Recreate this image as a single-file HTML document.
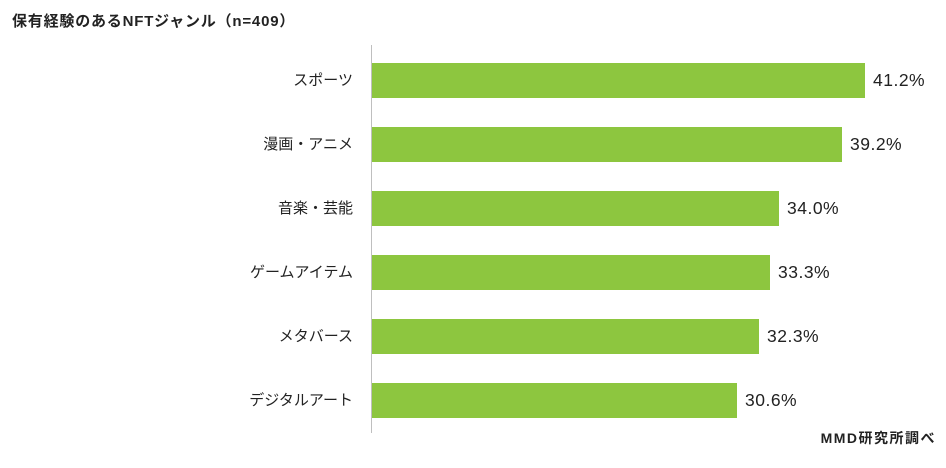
<!DOCTYPE html>
<html><head><meta charset="utf-8"><style>
body{margin:0;background:#fff;width:946px;height:468px;overflow:hidden;position:relative;font-family:"Liberation Sans","Noto Sans CJK JP",sans-serif;color:#222}
.t{position:absolute;left:12px;top:10px;font-size:15px;font-weight:bold;letter-spacing:0.8px}
.src{position:absolute;right:10px;top:428px;font-size:14px;font-weight:bold;letter-spacing:1.5px}
.ax{position:absolute;left:371px;top:45px;width:1px;height:388px;background:#bfbfbf}
.bar{position:absolute;left:372px;height:35px;background:#8DC63F}
.lb{position:absolute;right:593px;font-size:15px;line-height:35px;white-space:nowrap}
.v{position:absolute;font-size:17.5px;line-height:35px;letter-spacing:0.5px}
</style></head><body>
<div class="t">保有経験のあるNFTジャンル（n=409）</div>
<div class="ax"></div>
<div class="lb" style="top:63px">スポーツ</div><div class="bar" style="top:63px;width:493px"></div><div class="v" style="top:63px;left:873px">41.2%</div>
<div class="lb" style="top:127px">漫画・アニメ</div><div class="bar" style="top:127px;width:470px"></div><div class="v" style="top:127px;left:850px">39.2%</div>
<div class="lb" style="top:191px">音楽・芸能</div><div class="bar" style="top:191px;width:407px"></div><div class="v" style="top:191px;left:787px">34.0%</div>
<div class="lb" style="top:255px">ゲームアイテム</div><div class="bar" style="top:255px;width:398px"></div><div class="v" style="top:255px;left:778px">33.3%</div>
<div class="lb" style="top:319px">メタバース</div><div class="bar" style="top:319px;width:387px"></div><div class="v" style="top:319px;left:767px">32.3%</div>
<div class="lb" style="top:383px">デジタルアート</div><div class="bar" style="top:383px;width:365px"></div><div class="v" style="top:383px;left:745px">30.6%</div>
<div class="src">MMD研究所調べ</div>
</body></html>
